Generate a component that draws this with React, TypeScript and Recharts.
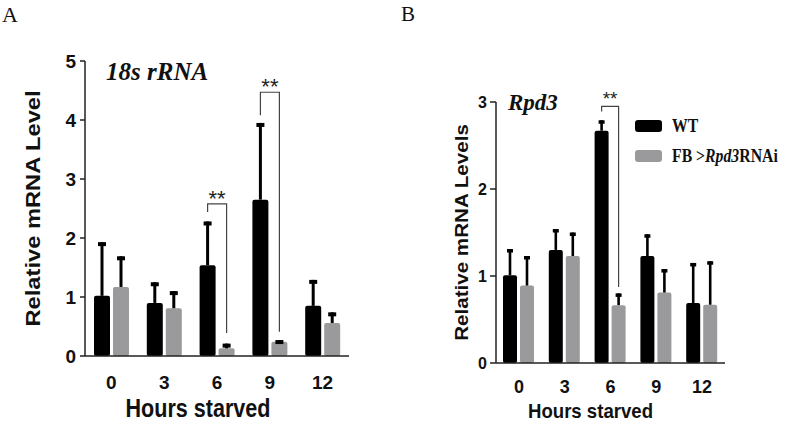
import React from "react";
import { BarChart, Bar, XAxis, YAxis, Legend } from "recharts";

const hours = ["0", "3", "6", "9", "12"];

// panel A – 18s rRNA (mean, upper error)
const rrnaWt = [1.02, 0.9, 1.54, 2.65, 0.85];
const rrnaWtErr = [0.91, 0.35, 0.74, 1.3, 0.44];
const rrnaKd = [1.17, 0.81, 0.13, 0.24, 0.56];
const rrnaKdErr = [0.52, 0.29, 0.08, 0.03, 0.18];
// significance brackets: top, left leg end, right leg end
const rrnaSigTop = [null, null, 2.58, 4.47, null];
const rrnaSigLeft = [null, null, 2.44, 4.08, null];
const rrnaSigRight = [null, null, 0.39, 0.41, null];

// panel B – Rpd3
const rpdWt = [1.01, 1.3, 2.67, 1.23, 0.69];
const rpdWtErr = [0.3, 0.24, 0.12, 0.25, 0.46];
const rpdKd = [0.89, 1.23, 0.665, 0.81, 0.67];
const rpdKdErr = [0.34, 0.27, 0.135, 0.27, 0.5];
const rpdSigTop = [null, null, 2.95, null, null];
const rpdSigLeft = [null, null, 2.89, null, null];
const rpdSigRight = [null, null, 0.875, null, null];

const ticksA = [0, 1, 2, 3, 4, 5];
const ticksB = [0, 1, 2, 3];

const wtName = "WT";
const kdParts = ["FB >", "Rpd3", "RNAi"];
const kdName = kdParts.join("");
const legendOrder = [wtName, kdName];

const BLACK = "#000000";
const GREY = "#9a9a9c";
const SANS = '"Liberation Sans", Arial, sans-serif';
const SERIF = '"Liberation Serif", "Times New Roman", serif';

const build = (wt: number[], wtErr: number[], kd: number[], kdErr: number[], sTop: any[], sLeft: any[], sRight: any[]) =>
  hours.map((h, i) => ({
    hour: h,
    wt: wt[i],
    wtErr: wtErr[i],
    kd: kd[i],
    kdErr: kdErr[i],
    sigTop: sTop[i],
    sigLeft: sLeft[i],
    sigRight: sRight[i],
  }));

const dataA = build(rrnaWt, rrnaWtErr, rrnaKd, rrnaKdErr, rrnaSigTop, rrnaSigLeft, rrnaSigRight);
const dataB = build(rpdWt, rpdWtErr, rpdKd, rpdKdErr, rpdSigTop, rpdSigLeft, rpdSigRight);

type ShapeOpts = {
  valueKey: string;
  errKey: string;
  fill: string;
  lineW: number;
  capW: number;
  capH: number;
  gap: number;
  sig?: boolean;
  starSize?: number;
  starDy?: number;
};

// bar + upward error bar (+ bracket for the knock-down series)
const makeBarShape = (o: ShapeOpts) => (props: any) => {
  const { x, y, width, height, payload } = props;
  const v = payload[o.valueKey];
  const ppu = height / v;
  const base = y + height;
  const toY = (val: number) => base - val * ppu;
  const cx = x + width / 2;
  const errTop = toY(v + payload[o.errKey]);
  const parts: React.ReactNode[] = [
    <rect key="b" x={x} y={y} width={width} height={height} rx={2} fill={o.fill} />,
    <line key="e" x1={cx} x2={cx} y1={y} y2={errTop} stroke="#000" strokeWidth={o.lineW} />,
    <rect key="c" x={cx - o.capW / 2} y={errTop} width={o.capW} height={o.capH} fill="#000" />,
  ];
  if (o.sig && payload.sigTop != null) {
    const lx = x - o.gap - width / 2;
    const top = toY(payload.sigTop);
    parts.push(
      <path
        key="s"
        d={`M${lx},${toY(payload.sigLeft)}V${top}H${cx}V${toY(payload.sigRight)}`}
        fill="none"
        stroke="#444"
        strokeWidth={1.2}
      />
    );
    parts.push(
      <text key="t" x={(lx + cx) / 2} y={top + (o.starDy || 0)} textAnchor="middle" fontSize={o.starSize} fontFamily={SANS} fill="#222">
        **
      </text>
    );
  }
  return <g>{parts}</g>;
};

const yTitle = (text: string, cx: number, size: number) => (props: any) => {
  const vb = props.viewBox;
  const cy = vb.y + vb.height / 2;
  return (
    <text
      transform={`translate(${cx},${cy}) scale(0.87,1) rotate(-90)`}
      textAnchor="middle"
      dy="0.36em"
      fontSize={size}
      fontWeight={700}
      fontFamily={SANS}
      fill="#111"
    >
      {text}
    </text>
  );
};

const xTitle = (text: string, dx: number, dy: number, size: number, len: number) => (props: any) => {
  const vb = props.viewBox;
  return (
    <text
      x={vb.x + vb.width / 2 + dx}
      y={vb.y + dy}
      textAnchor="middle"
      fontSize={size}
      fontWeight={700}
      fontFamily={SANS}
      fill="#111"
      textLength={len}
      lengthAdjust="spacingAndGlyphs"
    >
      {text}
    </text>
  );
};

const renderLegend = (props: any) => {
  const payload = [...(props.payload || [])].sort(
    (a: any, b: any) => legendOrder.indexOf(a.value) - legendOrder.indexOf(b.value)
  );
  return (
    <div style={{ fontFamily: SERIF, fontWeight: 700, fontSize: 19, color: "#111" }}>
      {payload.map((e: any) => (
        <div key={e.value} style={{ display: "flex", alignItems: "center", height: 30 }}>
          <span style={{ display: "inline-block", width: 27, height: 12, background: e.color, borderRadius: 3, marginRight: 10 }} />
          <span style={{ display: "inline-block", transform: "scaleX(0.83)", transformOrigin: "left center", whiteSpace: "nowrap" }}>
            {e.value === kdName ? (
              <>
                {kdParts[0]}
                <i>{kdParts[1]}</i>
                {kdParts[2]}
              </>
            ) : (
              e.value
            )}
          </span>
        </div>
      ))}
    </div>
  );
};

const axisStroke = { stroke: "#222", strokeWidth: 1.5 };

export default function App() {
  return (
    <div style={{ position: "absolute", left: 0, top: 0, width: 796, height: 444, background: "#fff" }}>
      <div style={{ position: "absolute", left: 0, top: 0 }}>
        <BarChart width={400} height={444} data={dataA} margin={{ top: 61, right: 51, bottom: 58, left: 0 }} barGap={3}>
          <XAxis
            dataKey="hour"
            height={30}
            tickLine={false}
            axisLine={axisStroke}
            tickSize={10}
            tickMargin={9.5}
            tick={{ fontSize: 19, fontWeight: 700, fontFamily: SANS, fill: "#111" }}
            label={{ content: xTitle("Hours starved", -19, 61, 25, 145) }}
          />
          <YAxis
            width={85}
            domain={[0, 5]}
            ticks={ticksA}
            interval={0}
            axisLine={axisStroke}
            tickLine={axisStroke}
            tickSize={5}
            tickMargin={4}
            tick={{ fontSize: 19, fontWeight: 700, fontFamily: SANS, fill: "#111" }}
            label={{ content: yTitle("Relative mRNA Level", 33, 23.7) }}
          />
          <Bar
            dataKey="wt"
            name={wtName}
            fill={BLACK}
            barSize={16}
            isAnimationActive={false}
            shape={makeBarShape({ valueKey: "wt", errKey: "wtErr", fill: BLACK, lineW: 3, capW: 8, capH: 4, gap: 3 })}
          />
          <Bar
            dataKey="kd"
            name={kdName}
            fill={GREY}
            barSize={16}
            isAnimationActive={false}
            shape={makeBarShape({ valueKey: "kd", errKey: "kdErr", fill: GREY, lineW: 3, capW: 8, capH: 4, gap: 3, sig: true, starSize: 22, starDy: 2 })}
          />
        </BarChart>
      </div>
      <div style={{ position: "absolute", left: 400, top: 0 }}>
        <BarChart width={396} height={444} data={dataB} margin={{ top: 102, right: 71, bottom: 51, left: 0 }} barGap={3}>
          <XAxis
            dataKey="hour"
            height={30}
            tickLine={false}
            axisLine={axisStroke}
            tickSize={10}
            tickMargin={7.5}
            tick={{ fontSize: 18, fontWeight: 700, fontFamily: SANS, fill: "#111" }}
            label={{ content: xTitle("Hours starved", -20, 55, 21, 125) }}
          />
          <YAxis
            width={96}
            domain={[0, 3]}
            ticks={ticksB}
            interval={0}
            axisLine={axisStroke}
            tickLine={axisStroke}
            tickSize={6}
            tickMargin={3}
            tick={{ fontSize: 16, fontWeight: 700, fontFamily: SANS, fill: "#111" }}
            label={{ content: yTitle("Relative mRNA Levels", 62, 20.6) }}
          />
          <Legend
            layout="vertical"
            align="center"
            verticalAlign="middle"
            content={renderLegend}
            wrapperStyle={{ top: 111, left: 235, width: "auto", margin: 0, padding: 0 }}
          />
          <Bar
            dataKey="wt"
            name={wtName}
            fill={BLACK}
            barSize={14}
            isAnimationActive={false}
            shape={makeBarShape({ valueKey: "wt", errKey: "wtErr", fill: BLACK, lineW: 2.6, capW: 6, capH: 3.5, gap: 3 })}
          />
          <Bar
            dataKey="kd"
            name={kdName}
            fill={GREY}
            barSize={14}
            isAnimationActive={false}
            shape={makeBarShape({ valueKey: "kd", errKey: "kdErr", fill: GREY, lineW: 2.6, capW: 6, capH: 3.5, gap: 3, sig: true, starSize: 19, starDy: -1 })}
          />
        </BarChart>
      </div>
      <svg width={796} height={444} style={{ position: "absolute", left: 0, top: 0, pointerEvents: "none" }}>
        <text x={2} y={22} fontSize={22} fontFamily={SERIF} fill="#111">A</text>
        <text x={401} y={21} fontSize={21} fontFamily={SERIF} fill="#111">B</text>
        <text x={106} y={80} fontSize={25} fontWeight={700} fontStyle="italic" fontFamily={SERIF} fill="#111">18s rRNA</text>
        <text x={508} y={110} fontSize={23} fontWeight={700} fontStyle="italic" fontFamily={SERIF} fill="#111">Rpd3</text>
      </svg>
    </div>
  );
}
